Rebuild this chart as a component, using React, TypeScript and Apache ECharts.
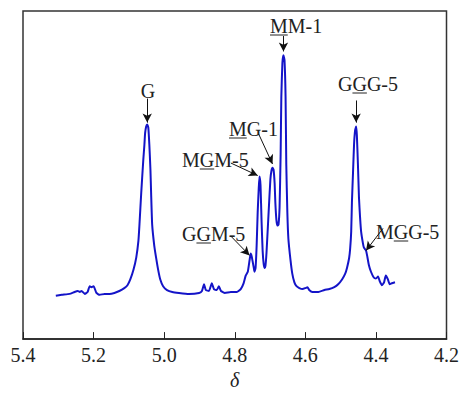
import React, { useEffect, useRef } from "react";
import * as echarts from "echarts";

// Chemical shift (ppm) and signal intensity (arbitrary units)
const shiftPpm = [
  5.307, 5.29, 5.268, 5.254, 5.245, 5.239, 5.234, 5.225, 5.217, 5.211, 5.206, 5.2, 5.192, 5.183, 5.169, 5.155,
  5.141, 5.127, 5.113, 5.104, 5.096, 5.087, 5.079, 5.073, 5.07, 5.065, 5.059, 5.056, 5.054, 5.051, 5.048, 5.045,
  5.042, 5.039, 5.037, 5.034, 5.028, 5.023, 5.017, 5.011, 5.003, 4.992, 4.977, 4.958, 4.93, 4.901, 4.893, 4.887,
  4.882, 4.873, 4.865, 4.859, 4.851, 4.845, 4.839, 4.828, 4.811, 4.794, 4.783, 4.775, 4.769, 4.763, 4.758, 4.755,
  4.752, 4.746, 4.744, 4.741, 4.738, 4.735, 4.732, 4.73, 4.727, 4.724, 4.721, 4.718, 4.715, 4.713, 4.71, 4.704,
  4.699, 4.696, 4.693, 4.69, 4.687, 4.685, 4.682, 4.679, 4.676, 4.673, 4.67, 4.668, 4.665, 4.662, 4.659, 4.656,
  4.654, 4.651, 4.648, 4.642, 4.637, 4.631, 4.625, 4.617, 4.608, 4.6, 4.594, 4.589, 4.58, 4.563, 4.546, 4.532,
  4.518, 4.507, 4.496, 4.487, 4.482, 4.476, 4.473, 4.47, 4.468, 4.465, 4.462, 4.459, 4.456, 4.454, 4.451, 4.448,
  4.445, 4.442, 4.437, 4.434, 4.428, 4.425, 4.42, 4.414, 4.406, 4.4, 4.394, 4.389, 4.383, 4.377, 4.372, 4.366,
  4.361, 4.355, 4.346,
];
const intensity = [
  45, 46, 47, 49, 50, 49, 50, 47, 49, 55, 54, 55, 48, 46, 47, 47,
  48, 50, 53, 56, 62, 72, 85, 102, 119, 152, 187, 202, 214, 221, 223, 220,
  202, 177, 152, 119, 97, 85, 72, 62, 55, 51, 49, 48, 47, 48, 50, 57,
  51, 50, 58, 52, 51, 55, 50, 48, 49, 49, 52, 58, 66, 70, 82, 89,
  86, 74, 70, 74, 97, 132, 157, 169, 160, 122, 92, 78, 74, 76, 90, 132,
  166, 175, 178, 176, 162, 142, 124, 118, 119, 137, 192, 252, 287, 295, 290, 252,
  182, 132, 104, 82, 68, 59, 55, 53, 52, 53, 54, 51, 49, 49, 51, 52,
  54, 57, 62, 68, 74, 84, 94, 112, 142, 172, 202, 217, 221, 212, 182, 147,
  127, 112, 100, 95, 92, 87, 77, 70, 64, 63, 65, 60, 56, 59, 66, 62,
  57, 58, 59,
];

const xTicks = ["5.4", "5.2", "5.0", "4.8", "4.6", "4.4", "4.2"];

// Peak assignments: label, arrow start [ppm, intensity], arrow end [ppm, intensity]
const peakLabels = ["G", "MM-1", "GGG-5", "MG-1", "MGM-5", "GGM-5", "MGG-5"];
const arrowFrom = [
  [5.048, 250], [4.662, 315], [4.456, 248], [4.732, 213], [4.811, 183], [4.811, 107], [4.38, 115],
];
const arrowTo = [
  [5.048, 225], [4.662, 299], [4.456, 225], [4.693, 182], [4.735, 170], [4.758, 87], [4.428, 92],
];

const FONT = "Liberation Serif";
const FS = 20;
const TEXT = "#222";
// approximate glyph widths (em) for Liberation Serif
const W: Record<string, number> = { M: 0.889, G: 0.722, "-": 0.333, "1": 0.5, "5": 0.5 };

// label layout: left x, baseline y, index of underlined letter (-1 none), centered?
const labelLayout = [
  { x: 148, base: 98, u: -1, center: true },
  { x: 270, base: 33, u: 0, center: false },
  { x: 338, base: 91, u: 1, center: false },
  { x: 229, base: 136, u: 0, center: false },
  { x: 182, base: 167, u: 1, center: false },
  { x: 182, base: 241, u: 1, center: false },
  { x: 376, base: 239, u: 1, center: false },
];

export default function App() {
  const ref = useRef<HTMLDivElement>(null);
  useEffect(() => {
    if (!ref.current) return;
    document.body.style.margin = "0";
    const chart = echarts.init(ref.current, null, { renderer: "svg" });

    const graphics: any[] = [];
    peakLabels.forEach((lab, i) => {
      const L = labelLayout[i];
      graphics.push({
        type: "text",
        x: L.x,
        y: L.base - 7,
        style: {
          text: lab,
          fontFamily: FONT,
          fontSize: FS,
          fill: TEXT,
          textAlign: L.center ? "center" : "left",
          textVerticalAlign: "middle",
        },
      });
      if (L.u >= 0) {
        let off = 0;
        for (let k = 0; k < L.u; k++) off += W[lab[k]] * FS;
        const w = W[lab[L.u]] * FS;
        graphics.push({
          type: "line",
          shape: { x1: L.x + off, y1: L.base + 2, x2: L.x + off + w, y2: L.base + 2 },
          style: { stroke: TEXT, lineWidth: 1 },
        });
      }
    });

    chart.setOption({
      animation: false,
      backgroundColor: "#fff",
      grid: {
        left: 23,
        right: 13,
        top: 11,
        bottom: 43,
        show: true,
        borderColor: "#333",
        borderWidth: 1.5,
        backgroundColor: "transparent",
      },
      xAxis: {
        type: "value",
        inverse: true,
        min: 4.2,
        max: 5.4,
        interval: 0.2,
        name: "δ",
        nameLocation: "middle",
        nameGap: 28,
        nameTextStyle: { fontFamily: FONT, fontSize: FS, fontStyle: "italic", color: TEXT },
        axisLine: { show: true, lineStyle: { color: "#222", width: 1.5 } },
        axisTick: { show: true, inside: true, length: 7, lineStyle: { color: "#222", width: 1 } },
        axisLabel: {
          fontFamily: FONT,
          fontSize: FS,
          color: TEXT,
          margin: 6,
          formatter: (v: number) => {
            const s = v.toFixed(1);
            return xTicks.includes(s) ? s : "";
          },
        },
        splitLine: { show: false },
      },
      yAxis: {
        type: "value",
        min: 0,
        max: 341,
        axisLine: { show: false },
        axisTick: { show: false },
        axisLabel: { show: false },
        splitLine: { show: false },
      },
      series: [
        {
          type: "line",
          data: shiftPpm.map((p, i) => [p, intensity[i]]),
          showSymbol: false,
          smooth: 0.15,
          lineStyle: { color: "#1414c8", width: 2 },
          silent: true,
          markLine: {
            silent: true,
            symbol: ["none", "arrow"],
            symbolSize: [7, 9],
            label: { show: false },
            lineStyle: { color: "#111", width: 1, type: "solid" },
            data: arrowFrom.map((a, i) => [
              { coord: a },
              { coord: arrowTo[i] },
            ]),
          },
        },
      ],
      graphic: graphics,
    });
    return () => chart.dispose();
  }, []);
  return <div ref={ref} style={{ width: 462, height: 395 }} />;
}
